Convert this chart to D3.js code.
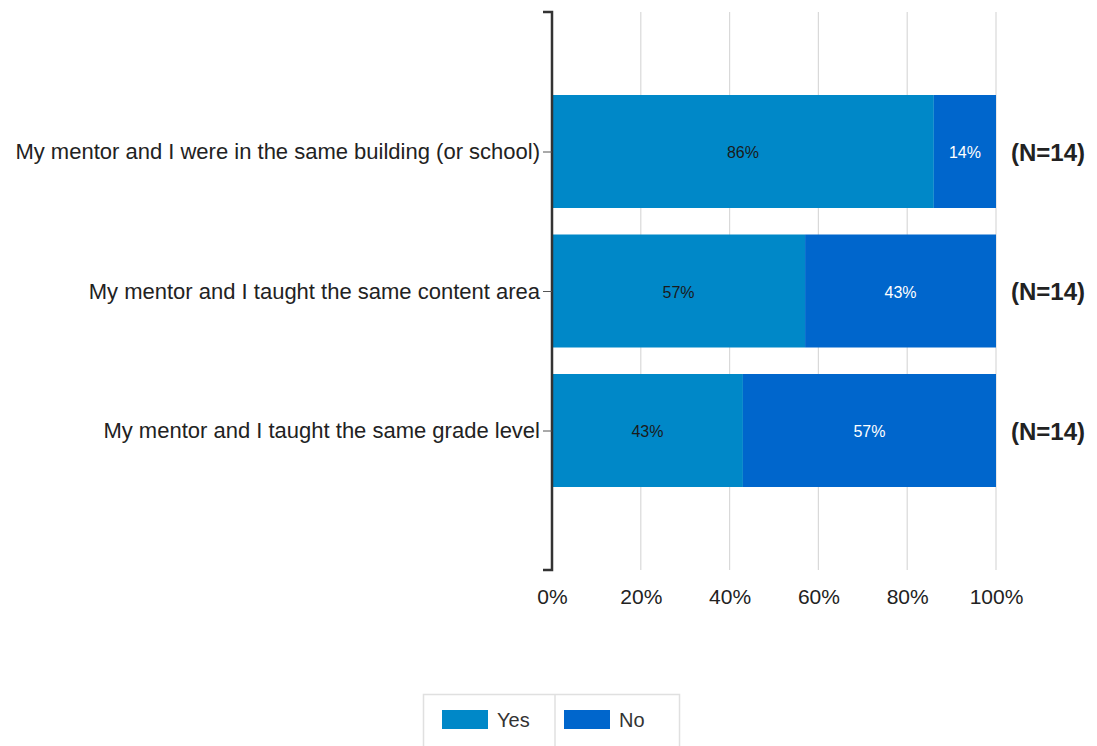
<!DOCTYPE html>
<html><head><meta charset="utf-8">
<script src="https://cdn.jsdelivr.net/npm/d3@7"></script>
<style>body{margin:0;background:#fff}svg{display:block}</style>
</head><body><svg id="c" width="1097" height="746"></svg>
<script>
const categories = ["My mentor and I were in the same building (or school)","My mentor and I taught the same content area","My mentor and I taught the same grade level"];
const seriesNames = ["Yes","No"];
const yesValues = [86,57,43];
const noValues = [14,43,57];
const nLabels = ["(N=14)","(N=14)","(N=14)"];
const xTicks = [0,20,40,60,80,100];
const colors = ["#0088c8","#0066cc"];
const labelColors = ["#1a1a1a","#ffffff"];

const svg = d3.select("#c");
const font = "'Liberation Sans', Arial, sans-serif";
const x = d3.scaleLinear().domain([0,100]).range([552,996]);
const y = d3.scalePoint().domain(categories).range([12,570]).padding(1);
const bh = 113;

// gridlines
svg.append("g").selectAll("line").data(xTicks.slice(1)).join("line")
  .attr("x1",d=>x(d)).attr("x2",d=>x(d)).attr("y1",12).attr("y2",570)
  .attr("stroke","#d9d9d9").attr("stroke-width",1.2);

const stack = categories.map((c,i)=>[
  {c, s:0, x0:0, x1:yesValues[i], v:yesValues[i]},
  {c, s:1, x0:yesValues[i], x1:yesValues[i]+noValues[i], v:noValues[i]}]).flat();

svg.append("g").selectAll("rect").data(stack).join("rect")
  .attr("x",d=>x(d.x0)).attr("width",d=>x(d.x1)-x(d.x0))
  .attr("y",d=>y(d.c)-bh/2).attr("height",bh)
  .attr("fill",d=>colors[d.s]);

svg.append("g").selectAll("text").data(stack).join("text")
  .attr("x",d=>(x(d.x0)+x(d.x1))/2).attr("y",d=>y(d.c)+1)
  .attr("dy","0.35em").attr("text-anchor","middle")
  .attr("font-family",font).attr("font-size",16)
  .attr("fill",d=>labelColors[d.s]).text(d=>d.v+"%");

// y axis
const yAxis = d3.axisLeft(y).tickSize(9).tickPadding(3).tickSizeOuter(9);
const gy = svg.append("g").attr("transform","translate(552,0)").call(yAxis);
gy.select(".domain").attr("stroke","#333").attr("stroke-width",2.5).attr("d","M-9,12H0V570H-9");
gy.selectAll(".tick line").attr("stroke","#555").attr("stroke-width",1);
gy.selectAll(".tick text").attr("font-family",font).attr("font-size",22).attr("fill","#222");

// x axis labels
const gx = svg.append("g").attr("transform","translate(0,570)")
  .call(d3.axisBottom(x).tickValues(xTicks).tickFormat(d=>d+"%").tickSize(0).tickPadding(19));
gx.select(".domain").remove();
gx.selectAll(".tick text").attr("font-family",font).attr("font-size",21).attr("fill","#222");

// N labels
svg.append("g").selectAll("text").data(categories).join("text")
  .attr("x",1011).attr("y",d=>y(d)+1).attr("dy","0.35em")
  .attr("font-family",font).attr("font-size",24).attr("font-weight","bold").attr("fill","#222")
  .text((d,i)=>nLabels[i]);

// legend
const lg = svg.append("g");
lg.append("rect").attr("x",423.5).attr("y",694.5).attr("width",256).attr("height",60)
  .attr("fill","none").attr("stroke","#e0e0e0").attr("stroke-width",1.5);
lg.append("line").attr("x1",555).attr("x2",555).attr("y1",694).attr("y2",746).attr("stroke","#e0e0e0").attr("stroke-width",1.5);
const lx = [442,564];
seriesNames.forEach((s,i)=>{
  lg.append("rect").attr("x",lx[i]).attr("y",710).attr("width",46).attr("height",19).attr("fill",colors[i]);
  lg.append("text").attr("x",lx[i]+55).attr("y",720).attr("dy","0.35em")
    .attr("font-family",font).attr("font-size",20).attr("fill","#333").text(s);
});
</script></body></html>
